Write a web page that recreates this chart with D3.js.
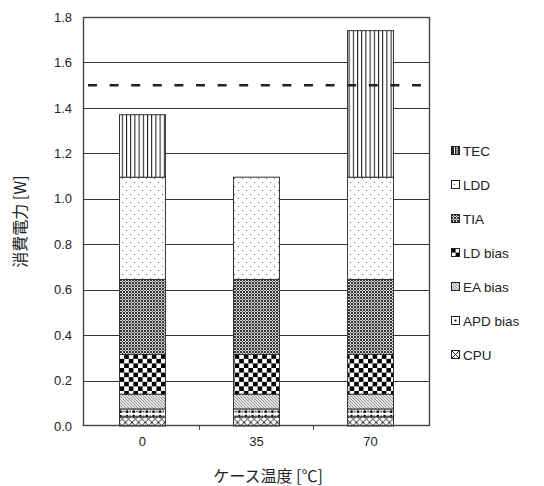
<!DOCTYPE html>
<html>
<head>
<meta charset="utf-8">
<script src="https://cdn.jsdelivr.net/npm/d3@7"></script>
<style>
  html, body { margin: 0; padding: 0; background: #fff; }
  svg { display: block; font-family: "Liberation Sans", Arial, sans-serif; }
</style>
</head>
<body>
<svg id="chart" width="544" height="486"></svg>
<script>
// Case temperatures (°C)
const categories = ["0", "35", "70"];
// Power consumption per component, stacked from bottom to top (W)
const seriesNames = ["CPU", "APD bias", "EA bias", "LD bias", "TIA", "LDD", "TEC"];
const cpu     = [0.04, 0.04, 0.04];
const apdBias = [0.035, 0.035, 0.035];
const eaBias  = [0.065, 0.065, 0.065];
const ldBias  = [0.175, 0.175, 0.175];
const tia     = [0.33, 0.33, 0.33];
const ldd     = [0.45, 0.45, 0.45];
const tec     = [0.275, 0, 0.645];
// Power budget limit (W)
const limit = 1.5;
const yTicks = [0.0, 0.2, 0.4, 0.6, 0.8, 1.0, 1.2, 1.4, 1.6, 1.8];

const seriesValues = [cpu, apdBias, eaBias, ldBias, tia, ldd, tec];
const rows = categories.map((c, i) => {
  const r = { cat: c };
  seriesNames.forEach((s, k) => { r[s] = seriesValues[k][i]; });
  return r;
});
const pid = name => "p-" + name.replace(/\s+/g, "-");

const svg = d3.select("#chart");
const L = 83, R = 430, T = 17, B = 426;

const x = d3.scaleBand().domain(categories).range([L, R])
  .paddingInner(0.597).paddingOuter(0.32);
const y = d3.scaleLinear().domain([0, 1.8]).range([B, T]);

// ---- fill patterns ----
const defs = svg.append("defs");
function pat(id, w, h, draw) {
  const p = defs.append("pattern").attr("id", id)
    .attr("patternUnits", "userSpaceOnUse").attr("width", w).attr("height", h);
  draw(p);
}
// TEC: vertical lines
pat(pid("TEC"), 4.2, 10, p => {
  p.append("rect").attr("width", 4.2).attr("height", 10).attr("fill", "#fff");
  p.append("rect").attr("x", 0).attr("width", 1).attr("height", 10).attr("fill", "#111");
});
// LDD: sparse grey dots
pat(pid("LDD"), 8, 8, p => {
  p.append("rect").attr("width", 8).attr("height", 8).attr("fill", "#fff");
  p.append("rect").attr("x", 2).attr("y", 2).attr("width", 1).attr("height", 1).attr("fill", "#666");
  p.append("rect").attr("x", 6).attr("y", 6).attr("width", 1).attr("height", 1).attr("fill", "#666");
});
// TIA: fine dark texture
pat(pid("TIA"), 3, 3, p => {
  p.append("rect").attr("width", 3).attr("height", 3).attr("fill", "#d8d8d8");
  p.append("rect").attr("width", 2).attr("height", 2).attr("fill", "#333");
  p.append("rect").attr("x", 2).attr("y", 2).attr("width", 1).attr("height", 1).attr("fill", "#555");
});
// LD bias: coarse checkerboard
pat(pid("LD bias"), 9.2, 9.2, p => {
  p.append("rect").attr("width", 9.2).attr("height", 9.2).attr("fill", "#fff");
  p.append("rect").attr("width", 4.6).attr("height", 4.6).attr("fill", "#000");
  p.append("rect").attr("x", 4.6).attr("y", 4.6).attr("width", 4.6).attr("height", 4.6).attr("fill", "#000");
});
// EA bias: light diagonal hatch
pat(pid("EA bias"), 3, 3, p => {
  p.append("rect").attr("width", 3).attr("height", 3).attr("fill", "#e6e6e6");
  p.append("path").attr("d", "M0,0 L3,3").attr("stroke", "#888").attr("stroke-width", 0.9);
});
// APD bias: black dots
pat(pid("APD bias"), 6.6, 4.5, p => {
  p.append("rect").attr("width", 6.6).attr("height", 4.5).attr("fill", "#fff");
  p.append("circle").attr("cx", 1.7).attr("cy", 2.2).attr("r", 1.5).attr("fill", "#000");
  p.append("circle").attr("cx", 5).attr("cy", 2.2).attr("r", 0.8).attr("fill", "#000");
});
// CPU: cross hatch
pat(pid("CPU"), 6.6, 6.6, p => {
  p.append("rect").attr("width", 6.6).attr("height", 6.6).attr("fill", "#fff");
  p.append("path").attr("d", "M0,0 L6.6,6.6 M6.6,0 L0,6.6")
    .attr("stroke", "#111").attr("stroke-width", 0.9);
});

// Legend swatch variants sized to the 9px key boxes
pat("k-TEC", 9, 9, p => {
  p.append("rect").attr("width", 9).attr("height", 9).attr("fill", "#222");
  p.append("rect").attr("x", 3).attr("y", 1).attr("width", 1).attr("height", 7).attr("fill", "#fff");
  p.append("rect").attr("x", 5.5).attr("y", 1).attr("width", 1).attr("height", 7).attr("fill", "#fff");
});
pat("k-LDD", 9, 9, p => {
  p.append("rect").attr("width", 9).attr("height", 9).attr("fill", "#fff");
  p.append("rect").attr("x", 3).attr("y", 4).attr("width", 1).attr("height", 1).attr("fill", "#444");
});
pat("k-APD", 9, 9, p => {
  p.append("rect").attr("width", 9).attr("height", 9).attr("fill", "#fff");
  p.append("circle").attr("cx", 4.5).attr("cy", 4.5).attr("r", 1.1).attr("fill", "#000");
});
pat("k-CPU", 9, 9, p => {
  p.append("rect").attr("width", 9).attr("height", 9).attr("fill", "#fff");
  p.append("path").attr("d", "M1,1 L8,8 M8,1 L1,8").attr("stroke", "#111").attr("stroke-width", 0.9);
});
const keyFill = { "TEC": "k-TEC", "LDD": "k-LDD", "APD bias": "k-APD", "CPU": "k-CPU" };

// ---- gridlines ----
svg.append("g").selectAll("line").data(yTicks.filter(v => v > 0 && v < 1.8)).join("line")
  .attr("x1", L).attr("x2", R)
  .attr("y1", d => Math.round(y(d)) + 0.5).attr("y2", d => Math.round(y(d)) + 0.5)
  .attr("stroke", "#333").attr("stroke-width", 1);

// ---- stacked bars ----
const stack = d3.stack().keys(seriesNames)(rows);
const bars = svg.append("g");
stack.forEach(layer => {
  bars.append("g").selectAll("rect")
    .data(layer.filter(d => d[1] - d[0] > 0))
    .join("rect")
    .attr("x", d => x(d.data.cat))
    .attr("width", x.bandwidth())
    .attr("y", d => y(d[1]))
    .attr("height", d => y(d[0]) - y(d[1]))
    .attr("fill", `url(#${pid(layer.key)})`)
    .attr("stroke", "#333").attr("stroke-width", 1);
});

// ---- limit line ----
svg.append("line")
  .attr("x1", L + 1).attr("x2", R)
  .attr("y1", y(limit)).attr("y2", y(limit))
  .attr("stroke", "#222").attr("stroke-width", 2.5)
  .attr("stroke-dasharray", "9,12.6").attr("stroke-dashoffset", -4);

// ---- plot frame ----
svg.append("rect").attr("x", L + 0.5).attr("y", T + 0.5)
  .attr("width", R - L - 1).attr("height", B - T - 1)
  .attr("fill", "none").attr("stroke", "#444").attr("stroke-width", 1.4);

// ---- y axis ----
const yAxis = d3.axisLeft(y).tickValues(yTicks).tickFormat(d3.format(".1f")).tickSize(0).tickPadding(11);
const gy = svg.append("g").attr("transform", `translate(${L},0)`).call(yAxis);
gy.select(".domain").remove();
gy.selectAll("text").attr("font-size", 13).attr("fill", "#222")
  .attr("font-family", "'Liberation Sans', Arial, sans-serif");

// ---- x axis ----
const xAxis = d3.axisBottom(x).tickSize(0).tickPadding(11);
const gx = svg.append("g").attr("transform", `translate(0,${B})`).call(xAxis);
gx.select(".domain").remove();
gx.selectAll("text").attr("font-size", 13).attr("fill", "#222")
  .attr("font-family", "'Liberation Sans', Arial, sans-serif");
// category separators below the axis
const seps = categories.slice(1).map((c, i) => (x(categories[i]) + x.bandwidth() + x(c)) / 2);
svg.append("g").selectAll("line").data(seps).join("line")
  .attr("x1", d => d).attr("x2", d => d).attr("y1", B).attr("y2", B + 4)
  .attr("stroke", "#444").attr("stroke-width", 1);

// ---- axis titles ----
svg.append("text").attr("transform", `translate(26,${(T + B) / 2}) rotate(-90)`)
  .attr("text-anchor", "middle").attr("font-size", 16).attr("fill", "#222")
  .attr("font-family", "'Noto Sans CJK JP', sans-serif")
  .text("消費電力 [W]");
svg.append("text").attr("x", 268).attr("y", 482)
  .attr("text-anchor", "middle").attr("font-size", 16).attr("fill", "#222")
  .attr("font-family", "'Noto Sans CJK JP', sans-serif")
  .text("ケース温度 [℃]");

// ---- legend ----
const legendOrder = seriesNames.slice().reverse();
const lg = svg.append("g").selectAll("g").data(legendOrder).join("g")
  .attr("transform", (d, i) => `translate(451,${146 + i * 34})`);
lg.append("rect").attr("x", 0).attr("y", 0).attr("width", 9).attr("height", 9)
  .attr("fill", d => `url(#${keyFill[d] || pid(d)})`);
lg.append("rect").attr("x", 0.5).attr("y", 0.5).attr("width", 8).attr("height", 8)
  .attr("fill", "none").attr("stroke", "#222").attr("stroke-width", 1);
lg.append("text").attr("x", 12).attr("y", 9.5).attr("font-size", 13.5).attr("fill", "#222")
  .text(d => d);
</script>
</body>
</html>
